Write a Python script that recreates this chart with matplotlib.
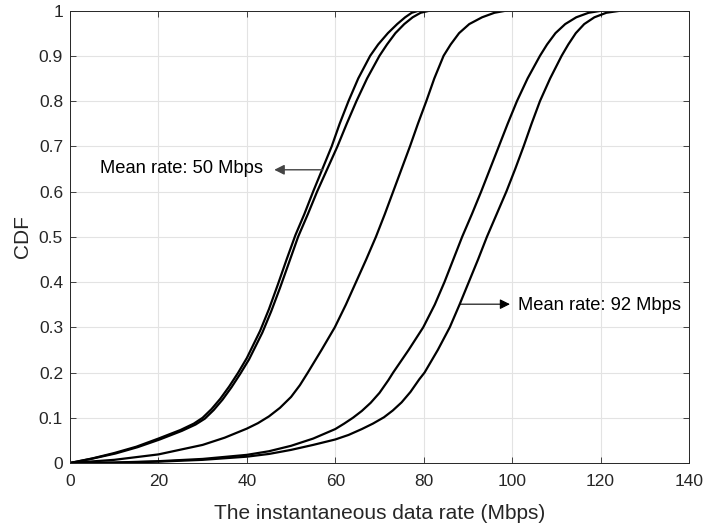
import matplotlib
matplotlib.use("Agg")
import matplotlib.pyplot as plt

plt.rcParams['font.family'] = ['Liberation Sans', 'DejaVu Sans']

# CDF curves (x = rate in Mbps, y = CDF), left to right
x_a = [0, 5, 10, 15, 20, 25, 28, 30, 32, 34, 36, 38, 40, 43, 45, 47, 49, 51, 53.0, 55.0,
       57.1, 59.2, 61.0, 63.0, 65.2, 67.9, 69.7, 71.9, 74.0, 75.8, 77.3, 79.0]
y_a = [0, 0.01, 0.022, 0.036, 0.054, 0.073, 0.087, 0.1, 0.119, 0.142, 0.169, 0.199, 0.232, 0.292, 0.34, 0.394, 0.45, 0.504, 0.55, 0.6,
       0.65, 0.7, 0.75, 0.8, 0.85, 0.9, 0.925, 0.95, 0.97, 0.985, 0.995, 1.0]

x_b = [0, 5.2, 10.3, 15.3, 20.3, 25.3, 28.4, 30.5, 32.5, 34.5, 36.5, 38.5, 40.5, 43.5, 45.5, 47.5, 49.5, 51.6, 53.8, 55.9,
       58.2, 60.5, 62.6, 64.8, 67.2, 70.0, 71.7, 73.6, 75.6, 77.5, 79.3, 81.5]
y_b = [0, 0.01, 0.021, 0.035, 0.052, 0.071, 0.085, 0.098, 0.117, 0.14, 0.167, 0.197, 0.229, 0.288, 0.335, 0.387, 0.442, 0.5, 0.55, 0.6,
       0.65, 0.7, 0.75, 0.8, 0.85, 0.9, 0.925, 0.95, 0.97, 0.985, 0.995, 1.0]

x_c = [0, 10, 20, 30, 35, 40, 42.5, 45, 47.5, 50, 52, 53.8, 56.9, 59.9, 62.4, 64.7, 67.0, 69.2, 71.2, 73.1,
       75.0, 76.9, 78.7, 80.6, 82.4, 84.5, 86.1, 88.0, 90.3, 93.2, 96.0, 98.8]
y_c = [0, 0.007, 0.019, 0.04, 0.056, 0.076, 0.088, 0.103, 0.122, 0.146, 0.172, 0.2, 0.25, 0.3, 0.35, 0.4, 0.45, 0.5, 0.55, 0.6,
       0.65, 0.7, 0.75, 0.8, 0.85, 0.9, 0.925, 0.95, 0.97, 0.985, 0.995, 1.0]

x_d = [0, 10, 20, 30, 40, 45, 50, 55, 60, 62, 64, 66, 68, 70, 72, 73.1, 76.6, 79.9, 82.5, 84.7, 86.7, 88.7,
       90.9, 93.0, 95.0, 97.0, 99.0, 101.1, 103.5, 106.3, 107.9, 109.8, 112.0, 114.5, 117.3, 120.5]
y_d = [0, 0.001, 0.004, 0.009, 0.018, 0.026, 0.038, 0.054, 0.075, 0.087, 0.1, 0.115, 0.133, 0.155, 0.183, 0.2, 0.25, 0.3, 0.35, 0.4, 0.45, 0.5,
       0.55, 0.6, 0.65, 0.7, 0.75, 0.8, 0.85, 0.9, 0.925, 0.95, 0.97, 0.985, 0.995, 1.0]

x_e = [0, 10, 20, 30, 40, 45, 50, 55, 60, 63, 66, 68.5, 71, 73, 75, 77, 79, 80.2, 83.2, 85.9, 88.1, 90.2, 92.3, 94.3,
       96.5, 98.7, 100.7, 102.6, 104.4, 106.3, 108.6, 111.2, 112.7, 114.4, 116.3, 118.6, 121.3, 124.8]
y_e = [0, 0.0007, 0.003, 0.007, 0.014, 0.02, 0.029, 0.04, 0.052, 0.062, 0.075, 0.087, 0.101, 0.116, 0.134, 0.157, 0.185, 0.2, 0.25, 0.3, 0.35, 0.4, 0.45, 0.5,
       0.55, 0.6, 0.65, 0.7, 0.75, 0.8, 0.85, 0.9, 0.925, 0.95, 0.97, 0.985, 0.995, 1.0]

x_ticks = [0, 20, 40, 60, 80, 100, 120, 140]
y_ticks = [0, 0.1, 0.2, 0.3, 0.4, 0.5, 0.6, 0.7, 0.8, 0.9, 1]
y_ticklabels = ['0', '0.1', '0.2', '0.3', '0.4', '0.5', '0.6', '0.7', '0.8', '0.9', '1']

fig = plt.figure(figsize=(7.09, 5.28), dpi=100)
ax = fig.add_axes([0.0987, 0.1231, 0.8731, 0.857])

for xs, ys in [(x_a, y_a), (x_b, y_b), (x_c, y_c), (x_d, y_d), (x_e, y_e)]:
    ax.plot(xs, ys, color='black', linewidth=1.6, solid_joinstyle='round')

ax.set_xlim(0, 140)
ax.set_ylim(0, 1)
ax.set_xticks(x_ticks)
ax.set_yticks(y_ticks)
ax.set_yticklabels(y_ticklabels)

# matlab look: inward ticks on all sides, light grid
ax.grid(True, color='#e3e3e3', linewidth=0.8)
ax.set_axisbelow(True)
ax.tick_params(direction='in', top=True, right=True, length=4, width=0.6,
               color='#262626', labelcolor='#262626', labelsize=12.5)
ax.tick_params(axis='x', pad=8)
ax.tick_params(axis='y', pad=5)
for s in ax.spines.values():
    s.set_color('#262626')
    s.set_linewidth(0.7)

ax.set_xlabel('The instantaneous data rate (Mbps)', fontsize=15, color='#262626')
ax.set_ylabel('CDF', fontsize=15, color='#262626')
ax.xaxis.set_label_coords(0.5, -0.09)
ax.yaxis.set_label_coords(-0.062, 0.5)

# annotations
ax.annotate('', xy=(46.2, 0.648), xytext=(57.2, 0.648),
            arrowprops=dict(arrowstyle='-|>', color='#444444', lw=1.0, mutation_scale=15,
                            shrinkA=0, shrinkB=0))
ax.text(43.7, 0.65, 'Mean rate: 50 Mbps', ha='right', va='center', fontsize=13.2)

ax.annotate('', xy=(99.5, 0.351), xytext=(88.2, 0.351),
            arrowprops=dict(arrowstyle='-|>', color='black', lw=0.8, mutation_scale=15,
                            shrinkA=0, shrinkB=0))
ax.text(101.4, 0.349, 'Mean rate: 92 Mbps', ha='left', va='center', fontsize=13.2)

fig.savefig('out.png', dpi=100)
